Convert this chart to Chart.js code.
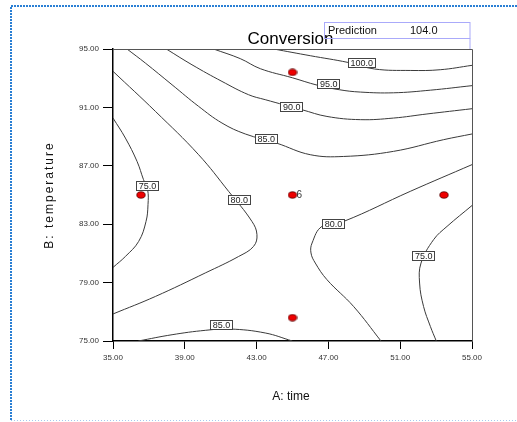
<!DOCTYPE html>
<html>
<head>
<meta charset="utf-8">
<script src="https://cdn.jsdelivr.net/npm/chart.js@4.4.1/dist/chart.umd.min.js"></script>
<style>
  html, body { margin: 0; padding: 0; background: #fff; }
  #chart { display: block; }
</style>
</head>
<body>
<canvas id="chart" width="517" height="422"></canvas>
<script>
// axis ranges
var xMin = 35, xMax = 55, yMin = 75, yMax = 95, tickStep = 4;

// contour lines, [A: time, B: temperature]
var line100 = [[43.95,95],[45.99,94.54],[48.09,94.08],[49.57,93.63],[51.56,93.53],[53.23,93.58],[55,93.88]];
var line95 = [[40.60,95],[42.09,94.34],[43.21,93.65],[44.99,93.03],[46.39,92.52],[47.61,92.21],[48.78,92.05],[50.63,92.0],[52.68,92.18],[55,92.49]];
var line90 = [[37.97,95],[39.40,93.92],[41.07,92.78],[42.55,91.87],[43.48,91.53],[45.53,90.84],[46.92,90.38],[48.78,90.16],[50.63,90.27],[52.49,90.55],[55,90.91]];
var line85top = [[35.78,95],[36.80,94.04],[38.29,92.55],[39.77,91.07],[41.07,89.93],[42.37,89.18],[44.10,88.56],[45.99,87.76],[47.85,87.64],[50.63,87.99],[53.42,88.79],[55,89.18]];
var line80left = [[35,93.47],[37.36,90.73],[39.77,87.76],[41.44,85.25],[42.74,83.19],[43.02,82.28],[42.83,81.48],[42.0,80.79],[40.14,79.66],[37.36,78.05],[35,76.85]];
var line75left = [[35,90.27],[35.69,88.90],[36.34,87.30],[36.70,86.05],[36.93,85.36],[36.95,84.34],[36.84,83.19],[36.43,81.82],[35.69,80.79],[35,80.04]];
var line85bottom = [[36.41,75],[38.29,75.43],[40.14,75.73],[41.53,75.82],[43.48,75.55],[44.99,75]];
var line80right = [[55,87.08],[51.56,85.25],[47.85,83.19],[46.64,82.85],[46.09,81.71],[46.03,81.03],[46.27,80.34],[46.92,79.20],[48.40,77.37],[49.93,75]];
var line75right = [[55,84.28],[53.61,82.85],[52.86,81.94],[52.16,80.34],[52.08,78.97],[52.30,77.37],[52.68,76.0],[53.01,75]];

// contour labels
var labelText = ['100.0', '95.0', '90.0', '85.0', '80.0', '75.0', '85.0', '80.0', '75.0'];
var labelX = [48.83, 46.99, 44.93, 43.51, 42.0, 36.89, 41.02, 47.25, 52.28];
var labelY = [94.08, 92.66, 91.08, 88.88, 84.71, 85.62, 76.15, 83.05, 80.86];

// design points
var designX = [45, 36.56, 45, 53.44, 45];
var designY = [93.4, 85, 85, 85, 76.6];
var centerReps = '6';

var predictionLabel = 'Prediction';
var predictionValue = '104.0';

function toPoints(arr) {
    return arr.map(function (p) { return { x: p[0], y: p[1] }; });
}

// red ellipse marker
var dot = document.createElement('canvas');
dot.width = 10; dot.height = 8;
var dctx = dot.getContext('2d');
dctx.beginPath();
dctx.ellipse(5, 4, 4.2, 3.2, 0, 0, Math.PI * 2);
dctx.fillStyle = '#ee0000';
dctx.fill();
dctx.strokeStyle = '#550000';
dctx.lineWidth = 0.8;
dctx.stroke();

var contourLines = [line100, line95, line90, line85top, line80left, line75left, line85bottom, line80right, line75right];

var datasets = [{
    label: 'design',
    data: designX.map(function (x, i) { return { x: x, y: designY[i] }; }),
    pointStyle: dot,
    pointRadius: 4,
    showLine: false
}];
contourLines.forEach(function (l) {
    datasets.push({
        data: toPoints(l),
        showLine: true,
        borderColor: '#3a3a3a',
        borderWidth: 1,
        pointRadius: 0,
        tension: 0.4,
        fill: false
    });
});

var font = '"Liberation Sans", Arial, sans-serif';

var overlay = {
    id: 'overlay',
    afterDatasetsDraw: function (chart) {
        var ctx = chart.ctx, a = chart.chartArea;
        var xs = chart.scales.x, ys = chart.scales.y;
        ctx.save();

        // top and right frame
        ctx.strokeStyle = '#555';
        ctx.lineWidth = 1;
        ctx.beginPath();
        ctx.moveTo(a.left, a.top + 0.5);
        ctx.lineTo(a.right + 0.5, a.top + 0.5);
        ctx.lineTo(a.right + 0.5, a.bottom);
        ctx.stroke();

        // contour labels
        ctx.font = '9px ' + font;
        ctx.textAlign = 'center';
        ctx.textBaseline = 'middle';
        for (var i = 0; i < labelText.length; i++) {
            var px = xs.getPixelForValue(labelX[i]);
            var py = ys.getPixelForValue(labelY[i]);
            var w = Math.round(ctx.measureText(labelText[i]).width + 4), h = 9;
            var lx = Math.round(px - w / 2), ly = Math.round(py - h / 2);
            ctx.fillStyle = '#fff';
            ctx.fillRect(lx, ly, w, h);
            ctx.strokeStyle = '#444';
            ctx.strokeRect(lx + 0.5, ly + 0.5, w, h);
            ctx.fillStyle = '#222';
            ctx.fillText(labelText[i], px + 0.5, py + 1);
        }

        // replicate count at center point
        ctx.font = '10px ' + font;
        ctx.textAlign = 'left';
        ctx.fillStyle = '#333';
        ctx.fillText(centerReps, xs.getPixelForValue(45) + 4, ys.getPixelForValue(85) + 0.5);

        // title
        ctx.font = '17px ' + font;
        ctx.textAlign = 'center';
        ctx.textBaseline = 'alphabetic';
        ctx.fillStyle = '#000';
        ctx.fillText('Conversion', 290.5, 44);

        // prediction box
        ctx.strokeStyle = 'rgb(170,170,250)';
        ctx.lineWidth = 1;
        ctx.strokeRect(324.5, 22.5, 145.5, 16);
        ctx.beginPath();
        ctx.moveTo(470, 38.5);
        ctx.lineTo(470, 49);
        ctx.stroke();
        ctx.font = '11px ' + font;
        ctx.textAlign = 'left';
        ctx.fillStyle = '#111';
        ctx.fillText(predictionLabel, 328, 34);
        ctx.fillText(predictionValue, 410, 34);

        // axis titles
        ctx.font = '12px ' + font;
        ctx.textAlign = 'center';
        ctx.textBaseline = 'middle';
        ctx.fillText('A: time', 291, 397);
        ctx.save();
        ctx.translate(50, 195);
        ctx.rotate(-Math.PI / 2);
        ctx.letterSpacing = '2px';
        ctx.fillText('B: temperature', 0, 0);
        ctx.restore();

        // dotted frame
        ctx.setLineDash([2, 1]);
        ctx.strokeStyle = '#2a7fd4';
        ctx.lineWidth = 2;
        ctx.beginPath();
        ctx.moveTo(11, 420);
        ctx.lineTo(11, 6);
        ctx.lineTo(517, 6);
        ctx.stroke();
        ctx.setLineDash([1, 2]);
        ctx.strokeStyle = '#a8c8ec';
        ctx.lineWidth = 1;
        ctx.beginPath();
        ctx.moveTo(11, 420.5);
        ctx.lineTo(517, 420.5);
        ctx.stroke();

        ctx.restore();
    }
};

var ctx = document.getElementById('chart');
var chart = new Chart(ctx, {
    type: 'scatter',
    data: { datasets: datasets },
    options: {
        responsive: false,
        animation: false,
        devicePixelRatio: 1,
        events: [],
        layout: { padding: { top: 49, right: 45, left: 0, bottom: 0 } },
        plugins: {
            legend: { display: false },
            tooltip: { enabled: false },
            title: { display: false }
        },
        scales: {
            x: {
                type: 'linear',
                min: xMin,
                max: xMax,
                afterFit: function (s) { s.height = 81; },
                ticks: {
                    stepSize: tickStep,
                    padding: 4,
                    color: '#333',
                    font: { size: 8, family: font },
                    maxRotation: 0,
                    callback: function (v) { return v.toFixed(2); }
                },
                grid: { drawOnChartArea: false, drawTicks: true, tickLength: 8, color: '#000' },
                border: { display: true, color: '#000', width: 1.5 }
            },
            y: {
                type: 'linear',
                min: yMin,
                max: yMax,
                afterFit: function (s) { s.width = 113; },
                ticks: {
                    stepSize: tickStep,
                    padding: 4,
                    color: '#333',
                    font: { size: 8, family: font },
                    callback: function (v) { return v.toFixed(2); }
                },
                grid: { drawOnChartArea: false, drawTicks: true, tickLength: 10, color: '#000' },
                border: { display: true, color: '#000', width: 1.5 }
            }
        }
    },
    plugins: [overlay]
});
</script>
</body>
</html>
